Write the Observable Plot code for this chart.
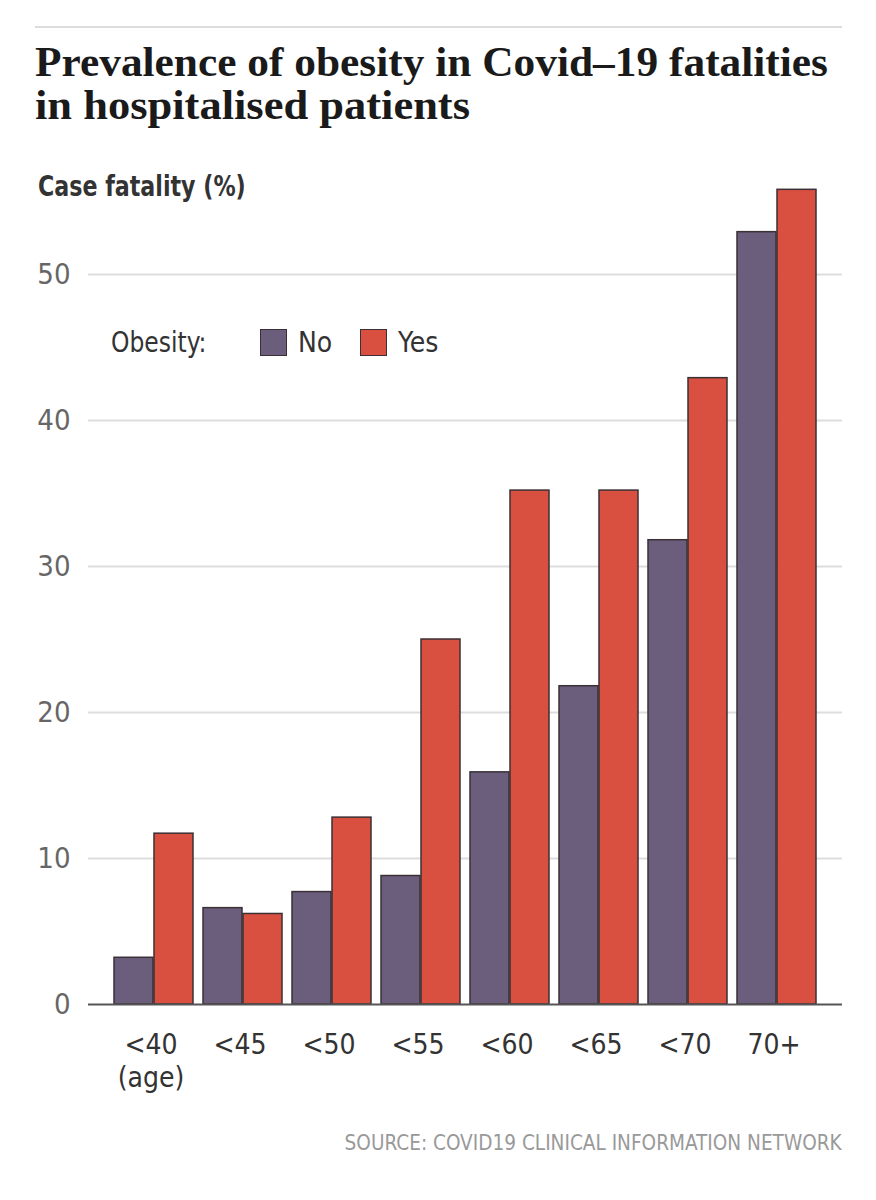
<!DOCTYPE html>
<html>
<head>
<meta charset="utf-8">
<script src="https://cdn.jsdelivr.net/npm/d3@7"></script>
<script src="https://cdn.jsdelivr.net/npm/@observablehq/plot@0.6"></script>
<style>
  html, body { margin: 0; padding: 0; background: #fff; }
  #wrap { position: relative; width: 876px; height: 1200px; overflow: hidden; }
  .abs { position: absolute; white-space: nowrap; }
  .sans { font-family: "DejaVu Sans Condensed", "Liberation Sans Narrow", sans-serif; }
  .leg { font-family: "DejaVu Sans Condensed", "Liberation Sans Narrow", sans-serif; font-size: 28px; color: #333; line-height: 32px; }
</style>
</head>
<body>
<div id="wrap">
  <div class="abs" style="left:35px; top:26px; width:807px; height:2px; background:#dcdcdc;"></div>
  <svg class="abs" style="left:0; top:0;" width="876" height="140">
    <text x="35" y="76" font-family="Liberation Serif, serif" font-weight="bold" font-size="42" fill="#1a1a1a" textLength="793" lengthAdjust="spacingAndGlyphs">Prevalence of obesity in Covid–19 fatalities</text>
    <text x="35" y="119" font-family="Liberation Serif, serif" font-weight="bold" font-size="42" fill="#1a1a1a" textLength="435" lengthAdjust="spacingAndGlyphs">in hospitalised patients</text>
  </svg>
  <div id="ylabel" class="abs sans" style="left:38px; top:170px; font-size:28px; font-weight:bold; color:#333; transform:scaleX(0.88); transform-origin:0 0;">Case fatality (%)</div>
  <div id="chart" class="abs" style="left:0; top:160px;"></div>
  <div id="legend"></div>
  <div id="source" class="abs sans" style="right:34px; top:1130px; font-size:22px; color:#999; transform:scaleX(0.935); transform-origin:100% 0;">SOURCE: COVID19 CLINICAL INFORMATION NETWORK</div>
</div>
<script>
const ages = ["<40", "<45", "<50", "<55", "<60", "<65", "<70", "70+"];
const ageLabels = ["<40\n(age)", "<45", "<50", "<55", "<60", "<65", "<70", "70+"];
const noObesity = [3.2, 6.6, 7.7, 8.8, 15.9, 21.8, 31.8, 52.9];
const yesObesity = [11.7, 6.2, 12.8, 25.0, 35.2, 35.2, 42.9, 55.8];
const yTicks = [0, 10, 20, 30, 40, 50];
const legendTitle = "Obesity:";
const seriesNames = ["No", "Yes"];
const seriesColors = ["#6b5e7c", "#d94f40"];

const dataNo = ages.map((a, i) => ({age: a, value: noObesity[i], group: "No"}));
const dataYes = ages.map((a, i) => ({age: a, value: yesObesity[i], group: "Yes"}));
const labelOf = new Map(ages.map((a, i) => [a, ageLabels[i]]));

const stroke = "#3a3035";
const plot = Plot.plot({
  width: 876,
  height: 960,
  marginLeft: 88,
  marginRight: 34,
  marginTop: 0,
  marginBottom: 116,
  style: {fontFamily: '"DejaVu Sans Condensed", "Liberation Sans Narrow", sans-serif', background: "transparent"},
  x: {domain: ages, paddingInner: 0.111, paddingOuter: 0.245, label: null},
  y: {domain: [0, 50], range: [844, 114], label: null},
  marks: [
    Plot.gridY([10, 20, 30, 40, 50], {stroke: "#dddddd", strokeOpacity: 1, strokeWidth: 2}),
    Plot.axisY(yTicks, {tickSize: 0, tickPadding: 18, fontSize: 29, fill: "#666", label: null}),
    Plot.barY(dataNo, {x: "age", y: "value", fill: seriesColors[0], stroke, strokeWidth: 1.5, insetRight: 40}),
    Plot.barY(dataYes, {x: "age", y: "value", fill: seriesColors[1], stroke, strokeWidth: 1.5, insetLeft: 40}),
    Plot.ruleY([0], {stroke: "#555", strokeWidth: 2}),
    Plot.axisX({tickSize: 0, tickPadding: 27, fontSize: 28, fill: "#333", lineHeight: 1.15, dx: -3, tickFormat: d => labelOf.get(d), label: null})
  ]
});
document.getElementById("chart").appendChild(plot);

// legend overlay
const legend = document.getElementById("legend");
const swatchX = [260, 360];
const labelX = [298, 398];
let html = `<div class="abs leg" style="left:111px; top:327px; transform:scaleX(0.93); transform-origin:0 0;">${legendTitle}</div>`;
seriesNames.forEach((n, i) => {
  html += `<div class="abs" style="left:${swatchX[i]}px; top:329px; width:25px; height:25px; background:${seriesColors[i]}; border:1.5px solid ${stroke};"></div>`;
  html += `<div class="abs leg" style="left:${labelX[i]}px; top:327px;">${n}</div>`;
});
legend.innerHTML = html;
</script>
</body>
</html>
